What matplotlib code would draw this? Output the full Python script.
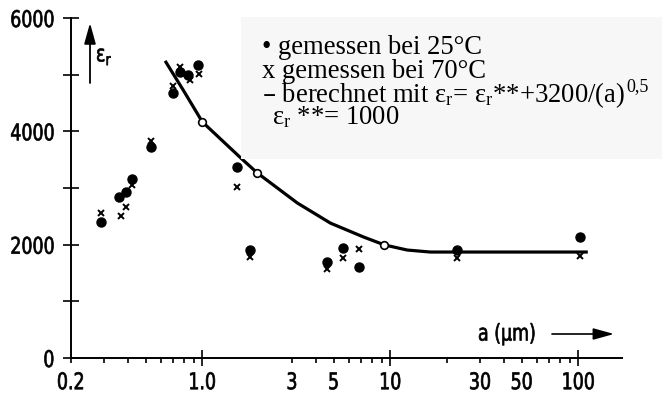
import matplotlib
matplotlib.use('Agg')
import matplotlib.pyplot as plt
from matplotlib.patches import Rectangle
from matplotlib.patheffects import AbstractPathEffect
from matplotlib.transforms import Affine2D, IdentityTransform

# Messwerte, gemessen bei 25°C (Punkte)
a25 = [0.29, 0.36, 0.39, 0.42, 0.53, 0.70, 0.76, 0.84, 0.95, 1.53, 1.80, 4.6, 5.6, 6.8, 22.7, 102]
e25 = [2400, 2850, 2930, 3160, 3720, 4680, 5050, 4990, 5170, 3370, 1900, 1700, 1940, 1610, 1900, 2140]

# Messwerte, gemessen bei 70°C (Kreuze)
a70 = [0.29, 0.37, 0.39, 0.42, 0.53, 0.70, 0.76, 0.86, 0.96, 1.53, 1.80, 4.6, 5.6, 6.8, 22.7, 102]
e70 = [2560, 2510, 2670, 3050, 3830, 4800, 5130, 4910, 5010, 3020, 1780, 1570, 1770, 1920, 1770, 1800]

# berechnete Kurve
a_kurve = [0.64, 0.79, 1.0, 1.6, 1.96, 3.2, 4.8, 7.2, 9.3, 12.3, 16.3, 25, 50, 110]
e_kurve = [5220, 4730, 4165, 3530, 3265, 2735, 2380, 2135, 1995, 1905, 1870, 1870, 1870, 1870]

# berechnete Punkte (offene Kreise)
a_calc = [1.0, 1.96, 9.3]
e_calc = [4165, 3265, 1995]

y_ticks = [0, 2000, 4000, 6000]
y_minor = [1000, 3000, 5000]
x_major = [1, 10, 100]
x_minor = [0.2, 0.3, 0.4, 0.5, 0.6, 0.7, 0.8, 0.9, 3, 4, 5, 6, 7, 8, 9,
           20, 30, 40, 50, 60, 70, 80, 90]
x_minor_labels = {0.2: '0.2', 3: '3', 5: '5', 30: '30', 50: '50'}

W, H = 662, 396
serif = ['Liberation Serif', 'DejaVu Serif']
SANS = 16.5


class Schmal(AbstractPathEffect):
    # Schrift horizontal stauchen und etwas kraeftiger zeichnen
    # (keine Narrow-Schrift installiert)
    def __init__(self, sx=0.76, anchor=0.0, dx=0.0, lw=0.5):
        super().__init__()
        self.sx = sx
        self.anchor = anchor
        self.dx = dx
        self.lw = lw

    def draw_path(self, renderer, gc, tpath, affine, rgbFace=None):
        p = affine.transform_path(tpath)
        if len(p.vertices) == 0:
            return
        x0, x1 = p.vertices[:, 0].min(), p.vertices[:, 0].max()
        xa = x0 + self.anchor * (x1 - x0)
        t = Affine2D().translate(-xa, 0).scale(self.sx, 1).translate(xa + self.dx, 0)
        gc0 = renderer.new_gc()
        gc0.copy_properties(gc)
        gc0.set_linewidth(self.lw)
        renderer.draw_path(gc0, t.transform_path(p), IdentityTransform(), rgbFace)
        gc0.restore()


fig = plt.figure(figsize=(W / 100, H / 100), dpi=100)
ax = fig.add_axes([71 / W, 38 / H, 551 / W, 340 / H])

ax.plot(a_kurve, e_kurve, '-', color='k', lw=2.3, zorder=2)
ax.plot(a_calc, e_calc, 'o', mfc='white', mec='k', mew=1.2, ms=5.5, zorder=3)
ax.plot(a25, e25, 'o', color='k', ms=6.5, zorder=3)
ax.plot(a70, e70, 'x', color='k', ms=4, mew=1.4, zorder=4)

ax.set_xscale('log')
ax.set_xlim(0.2, 0.2 * 10 ** (551 / 188))
ax.set_ylim(0, 6000)

for s in ['top', 'right']:
    ax.spines[s].set_visible(False)
for s in ['left', 'bottom']:
    ax.spines[s].set_linewidth(1.4)

ax.set_yticks(y_ticks)
ax.set_yticklabels([str(v) for v in y_ticks])
ax.set_yticks(y_minor, minor=True)
ax.tick_params(axis='y', which='both', direction='inout', length=11, width=1.2, pad=1.2, labelsize=SANS)

ax.set_xticks(x_major)
ax.set_xticklabels(['1.0', '10', '100'])
ax.set_xticks(x_minor, minor=True)
ax.set_xticklabels([x_minor_labels.get(v, '') for v in x_minor], minor=True)
ax.tick_params(axis='x', which='major', direction='inout', length=11, width=1.2, pad=4.0, labelsize=SANS)
ax.tick_params(axis='x', which='minor', direction='out', length=3.5, width=1.2, pad=6.0, labelsize=SANS)

for lab in ax.get_yticklabels():
    lab.set_family('DejaVu Sans')
    lab.set_path_effects([Schmal(0.76, 1.0, -7)])
for lab in ax.get_xticklabels() + ax.get_xticklabels(minor=True):
    lab.set_family('DejaVu Sans')
    lab.set_path_effects([Schmal(0.76, 0.5)])

# Pfeile und Achsenbeschriftungen
ax.annotate('', xy=(90, H - 23), xytext=(90, H - 83), xycoords='figure pixels',
            textcoords='figure pixels',
            arrowprops=dict(arrowstyle='-|>,head_length=0.9,head_width=0.25', lw=1.3, color='k',
                            mutation_scale=14, shrinkA=0, shrinkB=0))
fig.text(96 / W, 1 - 56 / H, r'$\mathregular{ε_r}$', fontsize=SANS, family='DejaVu Sans',
         va='center', ha='left', path_effects=[Schmal(0.76, 0.0)])

fig.text(478 / W, 1 - 334 / H, 'a (µm)', fontsize=SANS, family='DejaVu Sans',
         va='center', ha='left', path_effects=[Schmal(0.76, 0.0)])
ax.annotate('', xy=(614, H - 334), xytext=(552, H - 334), xycoords='figure pixels',
            textcoords='figure pixels',
            arrowprops=dict(arrowstyle='-|>,head_length=0.9,head_width=0.25', lw=1.2, color='k',
                            mutation_scale=14, shrinkA=0, shrinkB=0))

# Legendenkasten
fig.add_artist(Rectangle((241 / W, 1 - 159 / H), (W - 241) / W, 142 / H, transform=fig.transFigure,
                         facecolor='#f7f7f7', edgecolor='none', zorder=5))
rows = [
    (262, 54, '• gemessen bei 25°C'),
    (262, 78, 'x gemessen bei 70°C'),
    (262, 102, r'– berechnet mit $\mathregular{ε_r}$= $\mathregular{ε_r}$**+3200/(a)'),
    (272, 124, r'$\mathregular{ε_r}$ **= 1000'),
]
texts = []
for px, py, txt in rows:
    texts.append(fig.text(px / W, 1 - py / H, txt, fontsize=19.2, family=serif,
                          va='baseline', ha='left', zorder=6))

# Exponent 0,5 hinter "(a)"
renderer = fig.canvas.get_renderer()
bb = texts[2].get_window_extent(renderer)
fig.text(bb.x1 / W + 1 / W, 1 - 91 / H, '0,5', fontsize=13, family=serif,
         va='baseline', ha='left', zorder=6)

fig.savefig('out.png', dpi=100)
